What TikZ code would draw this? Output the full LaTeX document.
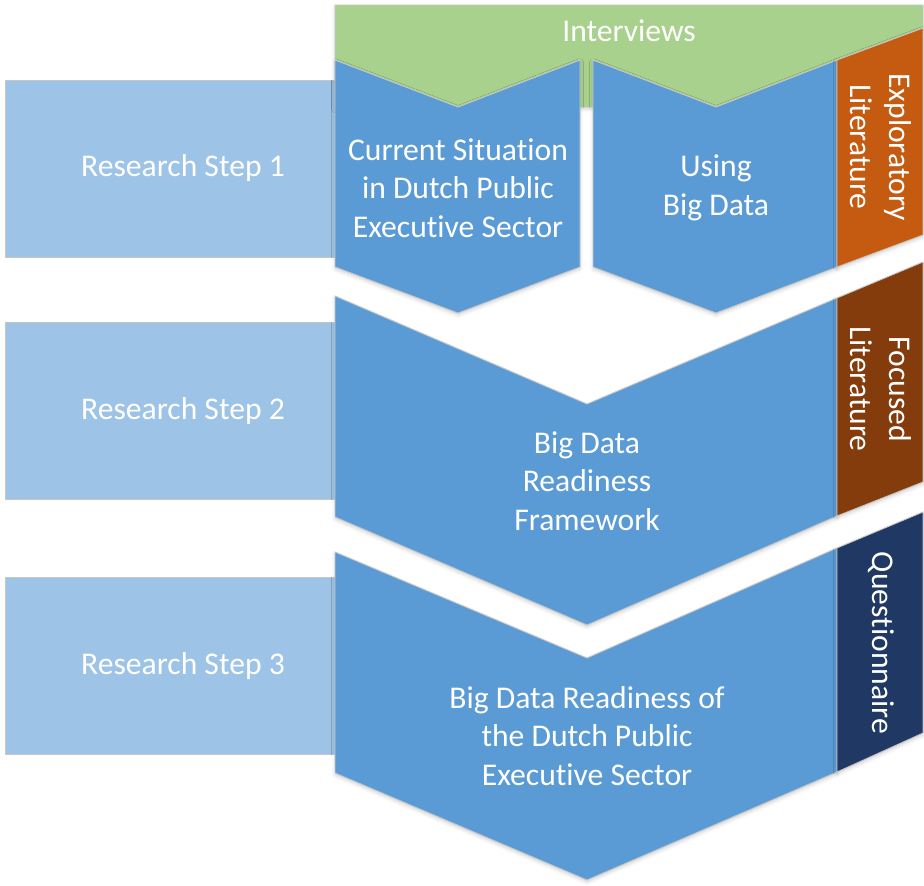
\documentclass[tikz,border=0pt]{standalone}
\usepackage{fontspec}
\setmainfont{Carlito}[Ligatures=NoCommon]
\usetikzlibrary{shadows.blur}
\definecolor{steplight}{HTML}{9DC3E6}
\definecolor{phaseblue}{HTML}{5B9BD5}
\definecolor{intgreen}{HTML}{A9D18E}
\definecolor{explorange}{HTML}{C55A11}
\definecolor{focbrown}{HTML}{843C0C}
\definecolor{qnavy}{HTML}{203864}
\begin{document}
\begin{tikzpicture}[x=0.02cm,y=-0.02cm,
    every node/.style={text=white,align=center,font=\fontsize{18}{22}\selectfont},
    stepbox/.style={fill=steplight,draw=black!22,line width=0.5pt,minimum width=7.12cm,minimum height=3.54cm},
    chev/.style={draw=black!22,line width=0.5pt,blur shadow={shadow xshift=0pt,shadow yshift=-1.2pt,shadow blur radius=2pt,shadow opacity=18}}]
    \useasboundingbox (0,0) rectangle (924,886);
    % research steps on the left
    \node[stepbox] (step1) at (183,168.5) {Research Step 1};
    \node[stepbox] (step2) at (183,411) {Research Step 2};
    \node[stepbox] (step3) at (183,666) {Research Step 3};
    % interviews band
    \draw[chev,fill=intgreen] (335,5) -- (923,5) -- (923,28) -- (716,107) -- (335,107) -- cycle;
    \node (interviews) at (629,31) {Interviews};
    % step 1: two chevrons and the side strip
    \draw[chev,fill=phaseblue] (335,60) -- (458,107) -- (580,60) -- (580,267) -- (458,313) -- (335,267) -- cycle;
    \draw[chev,fill=phaseblue] (593,60) -- (716,107) -- (837,60) -- (837,267) -- (716,313) -- (593,267) -- cycle;
    \draw[chev,fill=explorange] (837,60) -- (923,28) -- (923,235) -- (837,267) -- cycle;
    \node (current) at (458,188) {Current Situation\\in Dutch Public\\Executive Sector};
    \node (using) at (716,188) {Using\\Big Data};
    \node[rotate=-90] (explit) at (881,147) {Exploratory\\Literature};
    % step 2
    \draw[chev,fill=phaseblue] (335,296) -- (587,404) -- (837,298) -- (837,516) -- (587,625) -- (335,517) -- cycle;
    \draw[chev,fill=focbrown] (837,298) -- (923,262) -- (923,482) -- (837,516) -- cycle;
    \node (framework) at (587,481) {Big Data\\Readiness\\Framework};
    \node[rotate=-90] (foclit) at (881,389) {Focused\\Literature};
    % step 3
    \draw[chev,fill=phaseblue] (335,552) -- (587,658) -- (837,548) -- (837,772) -- (587,880) -- (335,773) -- cycle;
    \draw[chev,fill=qnavy] (837,548) -- (923,512) -- (923,733) -- (837,772) -- cycle;
    \node (readiness) at (587,736) {Big Data Readiness of\\the Dutch Public\\Executive Sector};
    \node[rotate=-90] (quest) at (881,643) {Questionnaire};
\end{tikzpicture}
\end{document}
